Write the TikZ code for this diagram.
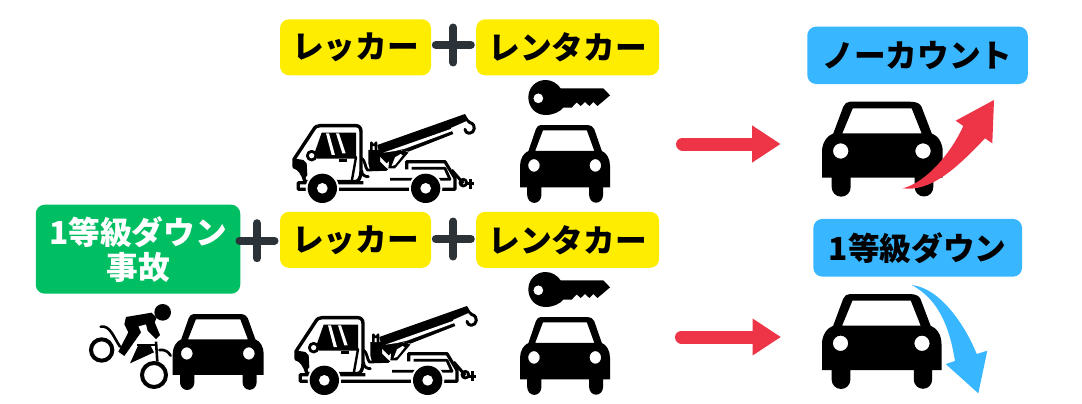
\documentclass[tikz,border=0pt]{standalone}
\usepackage{fontspec}
\usetikzlibrary{arrows.meta}
\newfontfamily\jpfont{Noto Sans CJK JP}
\definecolor{signyellow}{HTML}{FFED00}
\definecolor{signblue}{HTML}{38B6FF}
\definecolor{signgreen}{HTML}{00BF63}
\definecolor{signred}{HTML}{EE3548}
\definecolor{plusgrey}{HTML}{2B3238}
\tikzset{
  label box/.style={rounded corners=9pt,inner sep=0pt,align=center,text=black,font=\jpfont\bfseries\fontsize{31.7}{35}\selectfont},
  yellowbox/.style={label box,fill=signyellow},
  bluebox/.style={label box,fill=signblue},
  greenbox/.style={label box,fill=signgreen,text=white},
  pluspic/.pic={\draw[plusgrey,line width=8pt,line cap=round] (-17.5,0)--(17.5,0) (0,-17.5)--(0,17.5);},
  redarrow/.style={signred,line width=13pt,line cap=round,-{Triangle[length=28.5pt,width=35pt]}},
  carpic/.pic={
    \fill[black,even odd rule]
      (0,76)--(0,50) .. controls (0,41) and (5,34) .. (11.3,31.7)
      --(21.3,5) .. controls (22.5,2) and (25,0) .. (28,0)
      --(88,0) .. controls (95,0) and (98,2) .. (99.5,5)
      --(109.7,31.7) .. controls (116,34) and (120.7,41) .. (120.7,50)
      --(120.7,76)--(111.3,76)--(111.3,85.5) arc[start angle=0,end angle=180,radius=9.3]
      --(92.7,76)--(28.7,76)--(28.7,85.5) arc[start angle=0,end angle=180,radius=9.5]
      --(9.7,76)--cycle
      (20.3,31.7)--(30.7,6.7)--(89.7,6.7)--(99.7,31.7)--cycle
      (26.4,49.3) arc[start angle=0,end angle=360,radius=7.7]
      (108.7,49.3) arc[start angle=0,end angle=360,radius=7.7];
  },
  keypic/.pic={
    \begin{scope}[scale=1/3]
    \fill[black,even odd rule]
      (152,55) .. controls (142,40) and (125,30) .. (107,30)
      .. controls (77,30) and (55,53) .. (55,82)
      .. controls (55,112) and (77,135) .. (107,135)
      .. controls (130,135) and (150,125) .. (160,113)
      --(185,113)--(200,97)--(212,108)--(225,96)--(238,108)--(250,96)--(262,108)--(278,95)
      --(300,76)--(280,55)--cycle
      (100,85) arc[start angle=0,end angle=360,radius=15];
    \end{scope}
  },
  truckpic/.pic={
    \begin{scope}[scale=1/3,line join=round]
    % bed and rear hitch
    \draw[black,line width=3.2pt] (380,208)--(380,185)--(495,185)--(525,235)--(525,268)--(55,268)--(55,248)--(250,248);
    \draw[black,line width=2.8pt] (395,205)--(495,205)--(510,238)--(330,238);
    \draw[black,line width=3pt] (515,210)--(550,250);
    \draw[black,line width=2.8pt] (550,248) circle[radius=10];
    \draw[black,line width=3pt] (558,252)--(582,252) (570,238)--(570,268);
    % boom
    \fill[black] (292,135)--(555,42)--(566,60)--(512,84)--(520,102)--(385,155)--(365,150)--(320,190)--(300,170)--cycle;
    \fill[white] (310,158)--(515,86)--(517,93)--(375,146)--(345,153)--cycle;
    \fill[black] (330,165)--(370,150)--(385,158)--(345,205)--(325,205)--cycle;
    \fill[white] (345,172)--(362,162)--(368,166)--(345,195)--(335,198)--cycle;
    \draw[black,line width=3pt,line cap=round] (563,62)--(570,68) .. controls (590,72) and (585,100) .. (568,100) .. controls (560,100) and (556,95) .. (555,88);
    % post
    \fill[black] (265,150)--(300,150)--(300,185)--(320,205)--(270,210)--(265,190)--cycle;
    \draw[black,line width=2.6pt,line cap=round,fill=white] (274,150)--(274,128) arc[start angle=180,end angle=0,radius=7]--(288,150);
    \draw[black,line width=2.8pt,line cap=round] (245,175) .. controls (255,180) and (255,200) .. (262,210)--(320,208);
    \draw[black,line width=2.8pt,line cap=round] (245,212) .. controls (245,225) and (255,230) .. (265,230);
    % cab
    \draw[black,line width=3.4pt,fill=white] (42,178)--(100,90) .. controls (105,80) and (112,77) .. (120,77)
       --(228,77) .. controls (238,77) and (243,85) .. (243,95)--(243,212)
       .. controls (243,235) and (235,245) .. (225,245)--(75,245) .. controls (70,225) and (60,205) .. (42,200)--cycle;
    \fill[black] (125,98)--(228,98)--(228,172)--(110,172)--(105,155)--cycle;
    \fill[white] (138,100)--(147,100)--(165,165)--(155,165)--cycle;
    \fill[white] (168,100)--(177,100)--(197,160)--(187,160)--cycle;
    \draw[black,line width=2.4pt] (110,172)--(228,172)--(215,245);
    \draw[black,line width=2.4pt] (178,182)--(200,182);
    \fill[black] (40,175)--(40,205) .. controls (60,208) and (70,222) .. (72,240)--(82,225)--(80,190)--(70,180)--cycle;
    \draw[black,line width=2.8pt,fill=white] (95,167) circle[radius=13];
    % wheels
    \foreach \cx in {127,437}{
      \fill[white] (\cx,265) circle[radius=50];
      \fill[black] (\cx,265) circle[radius=44];
      \fill[white] (\cx,265) circle[radius=16];
    }
    \end{scope}
  },
  riderpic/.pic={
    \begin{scope}[scale=1/3]
    \draw[black,line width=4pt,fill=white] (65,165) circle[radius=32];
    \draw[black,line width=4pt,fill=white] (222,240) circle[radius=36];
    \fill[black] (248,52) circle[radius=25];
    \draw[black,line width=2.6pt,line cap=round] (62,95) .. controls (90,90) and (100,125) .. (120,155);
    \draw[black,line width=2.6pt,line cap=round] (238,165) .. controls (255,163) and (265,170) .. (272,182);
    \draw[black,line width=2.6pt] (228,140)--(232,200);
    \draw[black,line width=1.4pt] (170,150)--(232,150);
    \fill[black] (175,150)--(212,152)--(222,172)--(150,205)--cycle;
    \fill[black] (138,66)--(215,53)--(230,68)--(224,82)--(240,120)--(228,132)--(203,107)--(198,88)--(175,94)--(183,112)--(133,183)--(115,170)--(145,112)--(133,88)--cycle;
    \end{scope}
  }
}
\begin{document}
\begin{tikzpicture}[x=1pt,y=-1pt]
\useasboundingbox (0,0) rectangle (1082,404);
% labels
\node[yellowbox,minimum width=151pt,minimum height=56pt] (wrecker1) at (355.5,47.3) {レッカー};
\node[yellowbox,minimum width=183pt,minimum height=56pt] (rental1) at (567.7,47.3) {レンタカー};
\node[yellowbox,minimum width=151pt,minimum height=56pt] (wrecker2) at (355.5,239.8) {レッカー};
\node[yellowbox,minimum width=183pt,minimum height=56pt] (rental2) at (567.7,239.8) {レンタカー};
\node[greenbox,minimum width=204.5pt,minimum height=89pt] (accident) at (138,249.2) {1等級ダウン\\事故};
\node[bluebox,minimum width=220.5pt,minimum height=57.5pt] (nocount) at (917.5,55.3) {ノーカウント};
\node[bluebox,minimum width=208.7pt,minimum height=57.7pt] (down) at (917.7,247.8) {1等級ダウン};
% plus signs
\pic (plusA) at (453.3,45) {pluspic};
\pic (plusB) at (453.3,239) {pluspic};
\pic (plusC) at (257,240.7) {pluspic};
% icons
\pic (truck1) at (280,100) {truckpic};
\pic (truck2) at (282,292) {truckpic};
\pic (key1) at (510,70) {keypic};
\pic (key2) at (510,262) {keypic};
\pic[xscale=.746,yscale=.82] (rcar1) at (520,125) {carpic};
\pic[xscale=.746,yscale=.82] (rcar2) at (520,317) {carpic};
\pic (rider) at (80,295) {riderpic};
\pic[xscale=.754,yscale=.80] (acar) at (172.7,314) {carpic};
\pic (ncar) at (822,101.7) {carpic};
\pic[xscale=.99] (dcar) at (822,294) {carpic};
% trend arrows
\fill[signred] (902.7,188.3) .. controls (930,192) and (955,170) .. (985,138.3)
  --(992.3,143.3)--(994,100)--(955.7,120.7)--(963.3,126)
  .. controls (950,155) and (925,183) .. cycle;
\fill[signblue] (911.7,285) .. controls (940,288) and (965,325) .. (976.7,354)
  --(987.3,350.7)--(978.3,393.3)--(945.7,364)--(955,361)
  .. controls (950,330) and (940,300) .. cycle;
% result arrows
\coordinate (topfrom) at (682.5,144);
\coordinate (topto) at (780.7,144);
\coordinate (botfrom) at (681.5,337);
\coordinate (botto) at (781,337);
\draw[redarrow] (topfrom) -- (topto);
\draw[redarrow] (botfrom) -- (botto);
\end{tikzpicture}
\end{document}
